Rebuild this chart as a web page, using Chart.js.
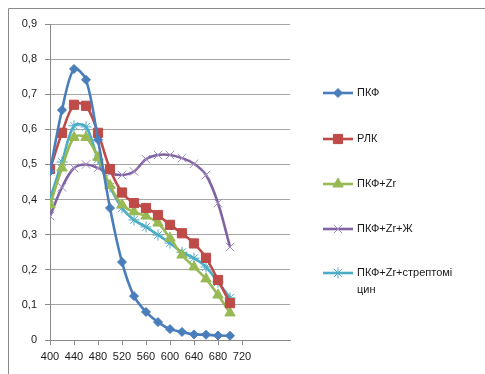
<!DOCTYPE html>
<html>
<head>
<meta charset="utf-8">
<script src="https://cdn.jsdelivr.net/npm/chart.js@4/dist/chart.umd.min.js"></script>
<style>
  html, body { margin: 0; padding: 0; background: #fff; }
  #wrap { position: relative; width: 485px; height: 374px; }
</style>
</head>
<body>
<div id="wrap"><canvas id="spectra" width="485" height="374"></canvas></div>
<script>
// wavelengths, nm
const wavelengths = [400, 420, 440, 460, 480, 500, 520, 540, 560, 580, 600, 620, 640, 660, 680, 700];

const pkf        = [0.48, 0.655, 0.772, 0.741, 0.57, 0.376, 0.222, 0.125, 0.08, 0.051, 0.031, 0.023, 0.016, 0.015, 0.013, 0.012];
const rlk        = [0.487, 0.59, 0.67, 0.667, 0.59, 0.487, 0.42, 0.39, 0.376, 0.356, 0.328, 0.304, 0.275, 0.234, 0.171, 0.105];
const pkfZr      = [0.385, 0.49, 0.577, 0.577, 0.52, 0.44, 0.385, 0.365, 0.353, 0.333, 0.29, 0.242, 0.208, 0.174, 0.128, 0.077];
const pkfZrZh    = [0.353, 0.435, 0.49, 0.5, 0.49, 0.475, 0.47, 0.48, 0.515, 0.527, 0.527, 0.518, 0.502, 0.47, 0.39, 0.265];
const pkfZrStrep = [0.402, 0.507, 0.61, 0.607, 0.515, 0.436, 0.376, 0.342, 0.322, 0.299, 0.276, 0.25, 0.233, 0.208, 0.165, 0.12];

const seriesNames = ['ПКФ', 'РЛК', 'ПКФ+Zr', 'ПКФ+Zr+Ж', ['ПКФ+Zr+стрептомі', 'цин']];
const xTickMax = 720;

const FONT = '"Liberation Sans", Arial, sans-serif';

function toPoints(values) {
    return values.map(function(v, i) { return { x: wavelengths[i], y: v }; });
}

function makeSeries(label, values, color, style, radius, borderW) {
    return {
        label: label,
        data: toPoints(values),
        borderColor: color,
        backgroundColor: color,
        pointBackgroundColor: color,
        pointBorderColor: color,
        pointStyle: style,
        pointRadius: radius,
        pointBorderWidth: borderW,
        borderWidth: 2.6,
        tension: 0.33,
        fill: false
    };
}

const datasets = [
    makeSeries(seriesNames[0], pkf, '#4A7EBB', 'rectRot', 4.5, 1),
    makeSeries(seriesNames[1], rlk, '#BE4B48', 'rect', 6.5, 1),
    makeSeries(seriesNames[2], pkfZr, '#98B954', 'triangle', 6, 1),
    makeSeries(seriesNames[3], pkfZrZh, '#8064A2', 'crossRot', 6, 1),
    makeSeries(seriesNames[4], pkfZrStrep, '#4BACC6', 'star', 5.5, 1)
];
datasets[3].pointBorderColor = '#A08CC0';

// outer frame (only top and left edges are visible in the picture)
const framePlugin = {
    id: 'frame',
    beforeDraw: function(chart) {
        const ctx = chart.ctx;
        ctx.save();
        ctx.strokeStyle = '#8a8a8a';
        ctx.lineWidth = 1;
        ctx.beginPath();
        ctx.moveTo(8.5, 374);
        ctx.lineTo(8.5, 8.5);
        ctx.lineTo(485, 8.5);
        ctx.stroke();
        ctx.restore();
    }
};

// legend at the right, drawn by hand so the last label can wrap
const sideLegend = {
    id: 'sideLegend',
    afterDraw: function(chart) {
        const ctx = chart.ctx;
        const rows = [93, 139, 184, 229, 273];
        ctx.save();
        chart.data.datasets.forEach(function(ds, i) {
            const y = rows[i];
            ctx.strokeStyle = ds.borderColor;
            ctx.lineWidth = 2.6;
            ctx.beginPath();
            ctx.moveTo(323, y);
            ctx.lineTo(353, y);
            ctx.stroke();

            ctx.fillStyle = ds.pointBackgroundColor;
            ctx.strokeStyle = ds.pointBorderColor;
            ctx.lineWidth = 1;
            Chart.helpers.drawPoint(ctx, { pointStyle: ds.pointStyle, radius: ds.pointRadius, borderWidth: 1, rotation: 0 }, 338, y);

            ctx.fillStyle = '#1a1a1a';
            ctx.font = '11px ' + FONT;
            ctx.textBaseline = 'middle';
            ctx.textAlign = 'left';
            const lines = Array.isArray(ds.label) ? ds.label : [ds.label];
            lines.forEach(function(t, k) {
                ctx.fillText(t, 357, y + k * 17);
            });
        });
        ctx.restore();
    }
};

new Chart(document.getElementById('spectra'), {
    type: 'line',
    data: { datasets: datasets },
    options: {
        responsive: false,
        animation: false,
        layout: { padding: { left: 0, top: 24, right: 195, bottom: 0 } },
        plugins: {
            legend: { display: false },
            tooltip: { enabled: false }
        },
        scales: {
            x: {
                type: 'linear',
                min: 400,
                max: 800,
                afterFit: function(scale) { scale.height = 34; },
                ticks: {
                    stepSize: 40,
                    autoSkip: false,
                    maxRotation: 0,
                    padding: 5,
                    color: '#1a1a1a',
                    font: { family: FONT, size: 11 },
                    callback: function(v) { return v <= xTickMax ? String(v) : ''; }
                },
                grid: {
                    drawOnChartArea: false,
                    tickLength: 5,
                    tickColor: function(c) { return c.tick && c.tick.value > xTickMax ? 'rgba(0,0,0,0)' : '#8a8a8a'; }
                },
                border: { color: '#8a8a8a' }
            },
            y: {
                min: 0,
                max: 0.9,
                afterFit: function(scale) { scale.width = 50; },
                ticks: {
                    stepSize: 0.1,
                    padding: 8,
                    color: '#1a1a1a',
                    font: { family: FONT, size: 11 },
                    callback: function(v) { return v === 0 ? '0' : v.toFixed(1).replace('.', ','); }
                },
                grid: { color: '#a6a6a6', tickLength: 5, tickColor: '#8a8a8a' },
                border: { color: '#8a8a8a' }
            }
        }
    },
    plugins: [framePlugin, sideLegend]
});
</script>
</body>
</html>
